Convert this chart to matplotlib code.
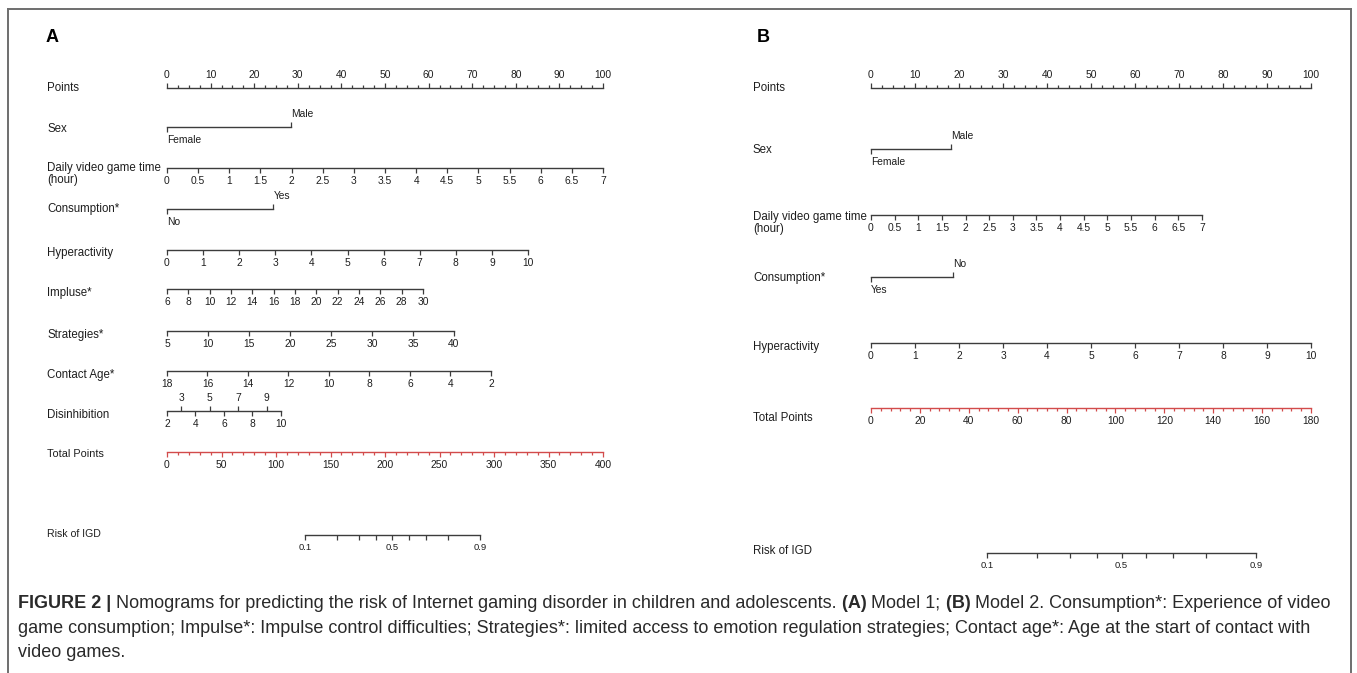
import numpy as np
import matplotlib.pyplot as plt
from matplotlib.lines import Line2D
from matplotlib.ticker import NullLocator

plt.rcParams['font.family'] = ['Liberation Sans', 'DejaVu Sans']

W, H = 1357, 673
LINE = '#3c3c3c'
RED = '#d24b4b'
TXT = '#1e1e1e'
TICKFONT = ['Liberation Sans Narrow', 'Liberation Sans']

# ---------------- data: panel A (Model 1) ----------------
points_ticks = [0, 10, 20, 30, 40, 50, 60, 70, 80, 90, 100]
points_minor = [0, 2.5, 5, 7.5, 10, 12.5, 15, 17.5, 20, 22.5, 25, 27.5, 30, 32.5, 35, 37.5,
                40, 42.5, 45, 47.5, 50, 52.5, 55, 57.5, 60, 62.5, 65, 67.5, 70, 72.5, 75,
                77.5, 80, 82.5, 85, 87.5, 90, 92.5, 95, 97.5, 100]

sex_levels_a = ['Female', 'Male']
sex_pts_a = [0, 28.4]
daily_ticks = [0, 0.5, 1, 1.5, 2, 2.5, 3, 3.5, 4, 4.5, 5, 5.5, 6, 6.5, 7]
daily_labels = ['0', '0.5', '1', '1.5', '2', '2.5', '3', '3.5', '4', '4.5', '5', '5.5', '6', '6.5', '7']
daily_pts_a = 100          # points at 7 hours
cons_levels_a = ['No', 'Yes']
cons_pts_a = [0, 24.4]
hyper_ticks = [0, 1, 2, 3, 4, 5, 6, 7, 8, 9, 10]
hyper_pts_a = 82.8         # points at 10
impulse_ticks = [6, 8, 10, 12, 14, 16, 18, 20, 22, 24, 26, 28, 30]
impulse_pts_a = 58.7       # points at 30
strat_ticks = [5, 10, 15, 20, 25, 30, 35, 40]
strat_pts_a = 65.8         # points at 40
contact_ticks = [18, 16, 14, 12, 10, 8, 6, 4, 2]
contact_pts_a = 74.3       # points at age 2
disinh_low = [2, 4, 6, 8, 10]
disinh_high = [3, 5, 7, 9]
disinh_pts_a = 26.1        # points at 10
total_ticks_a = [0, 50, 100, 150, 200, 250, 300, 350, 400]
total_minor_a = list(range(0, 401, 10))
risk_ticks = [0.1, 0.2, 0.3, 0.4, 0.5, 0.6, 0.7, 0.8, 0.9]
risk_labels = ['0.1', '', '', '', '0.5', '', '', '', '0.9']
risk_total_a = [126.6, 287.0]   # total points at risk 0.1 and 0.9

# ---------------- data: panel B (Model 2) ----------------
sex_levels_b = ['Female', 'Male']
sex_pts_b = [0, 18.2]
daily_pts_b = 75.2
cons_levels_b = ['Yes', 'No']
cons_pts_b = [0, 18.7]
hyper_pts_b = 100
total_ticks_b = [0, 20, 40, 60, 80, 100, 120, 140, 160, 180]
total_minor_b = list(range(0, 181, 4))
risk_total_b = [47.5, 157.5]

fig = plt.figure(figsize=(W / 100, H / 100), dpi=100)
fig.patch.set_facecolor('white')


def row(x0, x1, y, lim):
    ax = fig.add_axes([x0 / W, 1 - y / H, (x1 - x0) / W, 1e-5])
    ax.set_xlim(*lim)
    ax.patch.set_visible(False)
    ax.set_yticks([])
    for s in ('left', 'right', 'top'):
        ax.spines[s].set_visible(False)
    ax.spines['bottom'].set_color(LINE)
    ax.spines['bottom'].set_linewidth(1.0)
    ax.tick_params(which='both', color=LINE, width=0.9, labelsize=7.4, pad=2,
                   labelcolor=TXT, labelfontfamily=TICKFONT)
    ax.tick_params(which='major', length=3.5)
    ax.tick_params(which='minor', length=3.5)
    return ax


def numeric(x0, x1, y, ticks, labels, pts_end):
    v0, v1 = ticks[0], ticks[-1]
    ax = row(x0, x1, y, (v0, v0 + (v1 - v0) * 100 / pts_end))
    ax.set_xticks(ticks, labels)
    ax.spines['bottom'].set_bounds(min(v0, v1), max(v0, v1))
    return ax


def categorical(x0, x1, y, levels, pts):
    ax = row(x0, x1, y, (0, 100))
    ax.set_xticks([pts[0]], [levels[0]])
    ax.set_xticks([pts[1]], [levels[1]], minor=True)
    ax.tick_params(which='minor', bottom=False, top=True, labelbottom=False, labeltop=True)
    ax.spines['bottom'].set_bounds(pts[0], pts[1])
    for tk in ax.xaxis.get_major_ticks() + ax.xaxis.get_minor_ticks():
        tk.label1.set_ha('left')
        tk.label2.set_ha('left')
    return ax


def points_row(x0, x1, y):
    ax = row(x0, x1, y, (0, 100))
    ax.set_xticks(points_ticks, [str(t) for t in points_ticks])
    ax.set_xticks(points_minor, minor=True)
    ax.tick_params(which='both', bottom=False, top=True, labelbottom=False, labeltop=True)
    ax.tick_params(which='minor', length=2.2)
    ax.spines['bottom'].set_bounds(0, 100)


def total_row(x0, x1, y, ticks, minor):
    ax = row(x0, x1, y, (ticks[0], ticks[-1]))
    ax.set_xticks(ticks, [str(t) for t in ticks])
    ax.set_xticks(minor, minor=True)
    ax.tick_params(which='both', color=RED)
    ax.tick_params(which='minor', length=2.2)
    ax.spines['bottom'].set_color(RED)


def risk_row(x0, x1, y, tp, tp_max):
    lo, hi = np.log(risk_ticks[0] / (1 - risk_ticks[0])), np.log(risk_ticks[-1] / (1 - risk_ticks[-1]))
    b = (hi - lo) / (tp[1] - tp[0])
    a = lo - b * tp[0]
    ax = row(x0, x1, y, (0.5, 0.6))
    ax.set_xscale('logit')
    ax.set_xlim(1 / (1 + np.exp(-a)), 1 / (1 + np.exp(-(a + b * tp_max))))
    ax.set_xticks(risk_ticks, risk_labels)
    ax.xaxis.set_minor_locator(NullLocator())
    ax.spines['bottom'].set_bounds(risk_ticks[0], risk_ticks[-1])
    ax.tick_params(which='major', labelsize=6.8)


def label(x, y, s, size=8.3):
    fig.text(x / W, 1 - y / H, s, ha='left', va='center', fontsize=size, color=TXT,
             linespacing=1.05)


# ---------------- panel A ----------------
ax0, ax1, lx = 167, 603, 47
fig.text(46 / W, 1 - 37 / H, 'A', fontsize=13, fontweight='bold', va='center', ha='left')
points_row(ax0, ax1, 88)
label(lx, 88, 'Points')
categorical(ax0, ax1, 127, sex_levels_a, sex_pts_a)
label(lx, 129, 'Sex')
numeric(ax0, ax1, 168, daily_ticks, daily_labels, daily_pts_a)
label(lx, 174, 'Daily video game time\n(hour)')
categorical(ax0, ax1, 209, cons_levels_a, cons_pts_a)
label(lx, 209, 'Consumption*')
numeric(ax0, ax1, 250, hyper_ticks, [str(t) for t in hyper_ticks], hyper_pts_a)
label(lx, 253, 'Hyperactivity')
numeric(ax0, ax1, 289, impulse_ticks, [str(t) for t in impulse_ticks], impulse_pts_a)
label(lx, 293, 'Impluse*')
numeric(ax0, ax1, 331, strat_ticks, [str(t) for t in strat_ticks], strat_pts_a)
label(lx, 335, 'Strategies*')
numeric(ax0, ax1, 371, contact_ticks, [str(t) for t in contact_ticks], contact_pts_a)
label(lx, 375, 'Contact Age*')
axd = numeric(ax0, ax1, 411, disinh_low, [str(t) for t in disinh_low], disinh_pts_a)
axd.set_xticks(disinh_high, [str(t) for t in disinh_high], minor=True)
axd.tick_params(which='minor', bottom=False, top=True, labelbottom=False, labeltop=True)
label(lx, 415, 'Disinhibition')
total_row(ax0, ax1, 452, total_ticks_a, total_minor_a)
label(lx, 454, 'Total Points', 7.8)
risk_row(ax0, ax1, 535, risk_total_a, total_ticks_a[-1])
label(lx, 534, 'Risk of IGD', 7.6)

# ---------------- panel B ----------------
bx0, bx1, blx = 871, 1311, 753
fig.text(757 / W, 1 - 37 / H, 'B', fontsize=13, fontweight='bold', va='center', ha='left')
points_row(bx0, bx1, 88)
label(blx, 88, 'Points')
categorical(bx0, bx1, 149, sex_levels_b, sex_pts_b)
label(blx, 150, 'Sex')
numeric(bx0, bx1, 215, daily_ticks, daily_labels, daily_pts_b)
label(blx, 223, 'Daily video game time\n(hour)')
categorical(bx0, bx1, 277, cons_levels_b, cons_pts_b)
label(blx, 278, 'Consumption*')
numeric(bx0, bx1, 343, hyper_ticks, [str(t) for t in hyper_ticks], hyper_pts_b)
label(blx, 347, 'Hyperactivity')
total_row(bx0, bx1, 408, total_ticks_b, total_minor_b)
label(blx, 418, 'Total Points')
risk_row(bx0, bx1, 553, risk_total_b, total_ticks_b[-1])
label(blx, 551, 'Risk of IGD')

# ---------------- frame ----------------
for xs, ys in [((8, 1351), (9, 9)), ((8, 8), (9, 673)), ((1351, 1351), (9, 673))]:
    fig.add_artist(Line2D([x / W for x in xs], [1 - y / H for y in ys],
                          transform=fig.transFigure, color='#6e6e6e', lw=1.4))

# ---------------- caption ----------------
cap = fig.add_axes([0, 0, 1, 1])
cap.set_xlim(0, W)
cap.set_ylim(H, 0)
cap.axis('off')
caption = [
    [('FIGURE 2 |', 'bold'),
     (' Nomograms for predicting the risk of Internet gaming disorder in children and adolescents.', 'normal'),
     (' (A)', 'bold'), (' Model 1;', 'normal'), (' (B)', 'bold'),
     (' Model 2. Consumption*: Experience of video', 'normal')],
    [('game consumption; Impulse*: Impulse control difficulties; Strategies*: limited access to '
      'emotion regulation strategies; Contact age*: Age at the start of contact with', 'normal')],
    [('video games.', 'normal')],
]
cap_y = [612, 637, 661]
pieces = []
for parts, y in zip(caption, cap_y):
    prev = None
    for s, wt in parts:
        if prev is None:
            t = cap.text(18, y, s, fontweight=wt, fontsize=10.5, color='#2a2a2a',
                         ha='left', va='bottom')
        else:
            t = cap.annotate(s, xy=(1, 0), xycoords=prev, fontweight=wt, fontsize=10.5,
                             color='#2a2a2a', ha='left', va='bottom')
        pieces.append(t)
        prev = t

# fit first caption line to its width in the reference
fig.canvas.draw()
r = fig.canvas.get_renderer()
first = pieces[:6]
width = first[-1].get_window_extent(r).x1 - first[0].get_window_extent(r).x0
scale = 1322 / width
for t in pieces:
    t.set_fontsize(10.5 * scale)

fig.savefig('out.png', dpi=100, facecolor='white')
